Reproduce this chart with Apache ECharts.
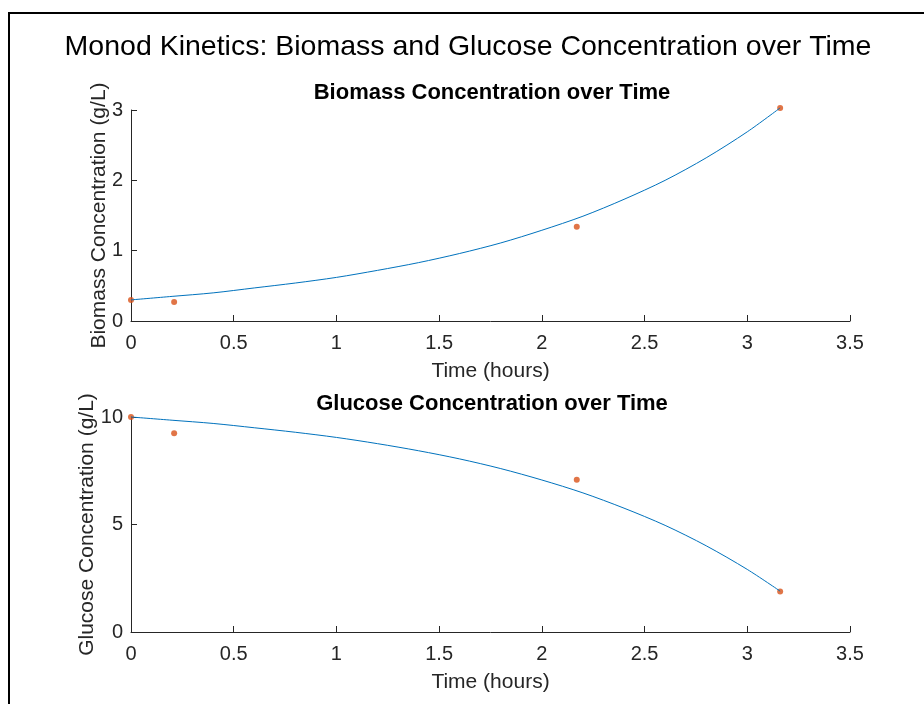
<!DOCTYPE html>
<html>
<head>
<meta charset="utf-8">
<script src="https://cdn.jsdelivr.net/npm/echarts@6/dist/echarts.min.js"></script>
<style>
html,body{margin:0;padding:0;background:#fff;}
#chart{width:924px;height:704px;}
</style>
</head>
<body>
<div id="chart"></div>
<script>
// Measured data points (hours, g/L)
var timeData = [0, 0.21, 2.17, 3.16];
var biomassData = [0.30, 0.27, 1.34, 3.03];
var glucoseData = [10.0, 9.25, 7.08, 1.88];

// Model curve
var curveTime = [0, 0.2, 0.4, 0.6, 0.8, 1.0, 1.2, 1.4, 1.6, 1.8, 2.0, 2.2, 2.4, 2.6, 2.8, 3.0, 3.16];
var biomassCurve = [0.30, 0.35, 0.40, 0.47, 0.54, 0.62, 0.72, 0.83, 0.96, 1.11, 1.29, 1.49, 1.73, 2.00, 2.32, 2.69, 3.03];
var glucoseCurve = [10.0, 9.85, 9.70, 9.50, 9.29, 9.05, 8.76, 8.43, 8.05, 7.60, 7.07, 6.47, 5.76, 4.96, 4.01, 2.91, 1.90];

var xTicks = [0, 0.5, 1, 1.5, 2, 2.5, 3, 3.5];
var biomassTicks = [0, 1, 2, 3];
var glucoseTicks = [0, 5, 10];

function pairs(xs, ys) { return xs.map(function (x, i) { return [x, ys[i]]; }); }

var FONT = '"Liberation Sans", Arial, Helvetica, sans-serif';
var axisColor = '#262626';
var textColor = '#262626';

function xAxis(gridIndex) {
  return {
    type: 'value', gridIndex: gridIndex,
    min: xTicks[0], max: xTicks[xTicks.length - 1], interval: 0.5,
    name: 'Time (hours)', nameLocation: 'middle', nameGap: 40,
    nameTextStyle: { fontFamily: FONT, fontSize: 21, color: textColor },
    axisLine: { show: true, lineStyle: { color: axisColor, width: 1 } },
    axisTick: { show: true, inside: true, length: 6, lineStyle: { color: axisColor } },
    axisLabel: { fontFamily: FONT, fontSize: 20, color: textColor, margin: 12 },
    splitLine: { show: false }
  };
}

function yAxis(gridIndex, ticks, interval, name, gap) {
  return {
    type: 'value', gridIndex: gridIndex,
    min: ticks[0], max: ticks[ticks.length - 1], interval: interval,
    name: name, nameLocation: 'middle', nameGap: gap, nameRotate: 90,
    nameMoveOverlap: false,
    nameTextStyle: { fontFamily: FONT, fontSize: 21, color: textColor },
    axisLine: { show: true, onZero: false, lineStyle: { color: axisColor, width: 1 } },
    axisTick: { show: true, inside: true, length: 6, lineStyle: { color: axisColor } },
    axisLabel: { fontFamily: FONT, fontSize: 20, color: textColor, margin: 8 },
    splitLine: { show: false }
  };
}

var chart = echarts.init(document.getElementById('chart'));
chart.setOption({
  backgroundColor: '#ffffff',
  animation: false,
  title: [
    { text: 'Monod Kinetics: Biomass and Glucose Concentration over Time', left: 463, top: 28, textAlign: 'center',
      textStyle: { fontFamily: FONT, fontSize: 28.5, fontWeight: 'normal', color: '#000' } },
    { text: 'Biomass Concentration over Time', left: 487, top: 77, textAlign: 'center',
      textStyle: { fontFamily: FONT, fontSize: 22, fontWeight: 'bold', color: '#000' } },
    { text: 'Glucose Concentration over Time', left: 487, top: 388, textAlign: 'center',
      textStyle: { fontFamily: FONT, fontSize: 22, fontWeight: 'bold', color: '#000' } }
  ],
  graphic: [
    { type: 'polyline', shape: { points: [[9, 704], [9, 13], [924, 13]] },
      style: { stroke: '#000', lineWidth: 2, fill: null }, silent: true }
  ],
  grid: [
    { left: 131, right: 74, top: 110, height: 211 },
    { left: 131, right: 74, top: 417, height: 215 }
  ],
  xAxis: [xAxis(0), xAxis(1)],
  yAxis: [
    yAxis(0, biomassTicks, 1, 'Biomass Concentration (g/L)', 21),
    yAxis(1, glucoseTicks, 5, 'Glucose Concentration (g/L)', 33)
  ],
  series: [
    { type: 'line', xAxisIndex: 0, yAxisIndex: 0, data: pairs(curveTime, biomassCurve), smooth: 0.3,
      showSymbol: false, clip: false, lineStyle: { color: '#0072BD', width: 1 } },
    { type: 'scatter', xAxisIndex: 0, yAxisIndex: 0, data: pairs(timeData, biomassData),
      symbol: 'circle', symbolSize: 6, clip: false, itemStyle: { color: '#D95319' } },
    { type: 'line', xAxisIndex: 1, yAxisIndex: 1, data: pairs(curveTime, glucoseCurve), smooth: 0.3,
      showSymbol: false, clip: false, lineStyle: { color: '#0072BD', width: 1 } },
    { type: 'scatter', xAxisIndex: 1, yAxisIndex: 1, data: pairs(timeData, glucoseData),
      symbol: 'circle', symbolSize: 6, clip: false, itemStyle: { color: '#D95319' } }
  ]
});
</script>
</body>
</html>
